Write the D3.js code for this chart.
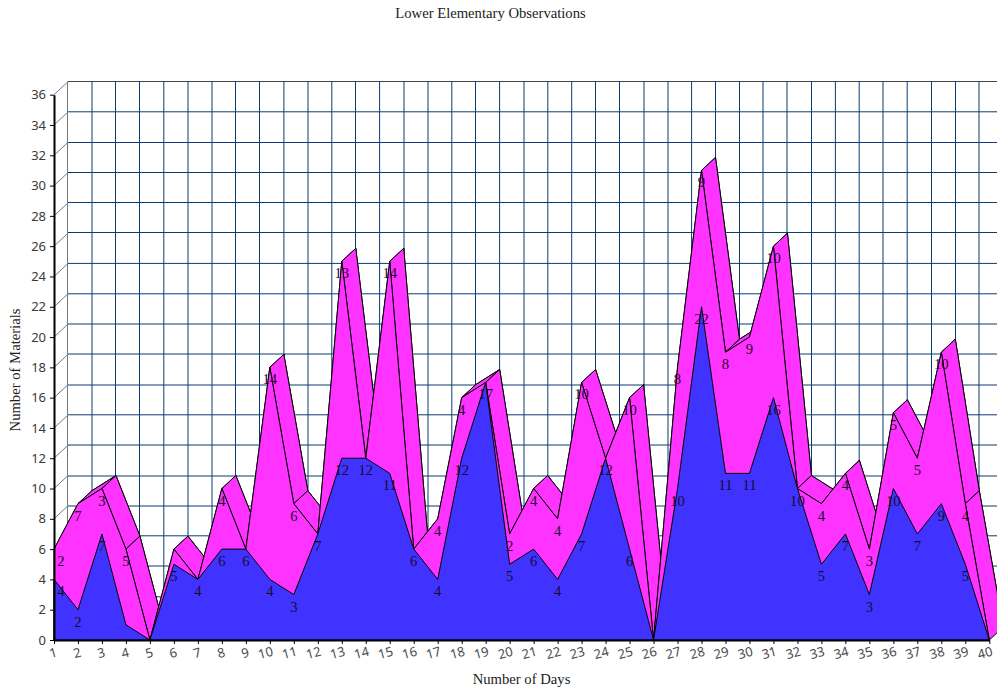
<!DOCTYPE html>
<html>
<head>
<meta charset="utf-8">
<script src="https://cdnjs.cloudflare.com/ajax/libs/d3/7.8.5/d3.min.js"></script>
<style>html,body{margin:0;padding:0;background:#fff;overflow:hidden}svg{display:block}</style>
</head>
<body>
<svg id="c" width="997" height="692"></svg>
<script>
const titleText = "Lower Elementary Observations";
const xTitle = "Number of Days";
const yTitle = "Number of Materials";
const days = d3.range(1, 41).map(String);
const blue = [4,2,7,1,0,5,4,6,6,4,3,7,12,12,11,6,4,12,17,5,6,4,7,12,6,0,10,22,11,11,16,10,5,7,3,10,7,9,5,0];
const pink = [2,7,3,5,0,1,0,4,0,14,6,0,13,0,14,0,4,4,0,2,4,4,10,0,10,0,8,9,8,9,10,0,4,4,3,5,5,10,4,0];
const yTicks = d3.range(0, 37, 2);
// how blurred each wall line looks in the reference (0 crisp, .5 soft)
const vBlur = [0,.5,0,0,.3,.5,.5,0,0,.4,.5,.3,0,.1,.5,.5,.3,0,.1,.5,.3,.2,0,0,.5,.5,.1,0,0,.5,.5,0,.1,.3,.5,.3,0,0,.5,.5];
const hBlur = [0,.3,.5,.3,.5,.5,.5,.3,.5,.5,.5,.3,.1,0,0,0,0,.3,0]; // value 0..36

const svg = d3.select("#c");
const x = d3.scalePoint().domain(days).range([54, 989.3]);
const y = d3.scaleLinear().domain([0, 36]).range([640, 94.7]);
const dx = 14, dy = -13;
const stack = blue.map((v, i) => v + pink[i]);
const navy = "#0b3c70";
const serif = "'Liberation Serif','Times New Roman',serif";
const sans = "'Noto Sans',Tahoma,sans-serif";
const snap = (p, blur) => Math.floor(p - 0.2) + 0.5 + (blur > 0 ? (Math.round(p) > Math.floor(p - 0.2) ? blur : -blur) : 0);

// back wall grid
const grid = svg.append("g");
grid.selectAll("line.v").data(days).join("line").attr("class", "v")
  .attr("x1", (d, i) => snap(x(d) + dx, vBlur[i])).attr("x2", (d, i) => snap(x(d) + dx, vBlur[i]))
  .attr("y1", y(36) + dy).attr("y2", y(0) + dy)
  .attr("stroke", (d, i) => i === 0 ? "#777" : navy).attr("stroke-width", 1);
grid.selectAll("line.h").data(yTicks).join("line").attr("class", "h")
  .attr("x1", x("1") + dx).attr("x2", 1010)
  .attr("y1", (d, i) => snap(y(d) + dy, hBlur[i])).attr("y2", (d, i) => snap(y(d) + dy, hBlur[i]))
  .attr("stroke", d => d === 36 ? "#444" : navy).attr("stroke-width", 1);
grid.selectAll("line.s").data(yTicks).join("line").attr("class", "s")
  .attr("x1", x("1")).attr("x2", x("1") + dx)
  .attr("y1", d => y(d)).attr("y2", d => y(d) + dy)
  .attr("stroke", "#5f7f9f").attr("stroke-width", 1);

// pink ribbon (back face, top surfaces, front face)
const line = d3.line();
const frontPts = vals => vals.map((v, i) => [x(days[i]), y(v)]);
const closed = pts => line([[x(days[0]), y(0)], ...pts, [x(days[days.length - 1]), y(0)]]) + "Z";
const pinkFill = "#ff33ff", blueFill = "#4033ff";
const shape = { fill: pinkFill, stroke: "#000", "stroke-width": 1, "stroke-linejoin": "miter" };
const applyAttrs = (sel, o) => { Object.entries(o).forEach(([k, v]) => sel.attr(k, v)); return sel; };

const back = svg.append("g").attr("transform", `translate(${dx},${dy})`);
applyAttrs(back.append("path").attr("d", closed(frontPts(stack))), shape);

const segs = d3.pairs(frontPts(stack));
applyAttrs(svg.append("g").selectAll("path").data(segs).join("path")
  .attr("d", ([a, b]) => line([a, b, [b[0] + dx, b[1] + dy], [a[0] + dx, a[1] + dy]]) + "Z"), shape);

applyAttrs(svg.append("path").attr("d", closed(frontPts(stack))), shape);
applyAttrs(svg.append("path").attr("d", closed(frontPts(blue))), { ...shape, fill: blueFill });

// axes
const yAxis = d3.axisLeft(y).tickValues(yTicks).tickSize(4).tickPadding(4).tickSizeOuter(0);
const gy = svg.append("g").attr("transform", `translate(${x("1")},0)`).call(yAxis);
gy.select(".domain").attr("stroke", "#000").attr("stroke-width", 2);
gy.selectAll("text").attr("font-family", sans).attr("font-size", 13).attr("fill", "#3a3a3a");

const xAxis = d3.axisBottom(x).tickSize(4).tickPadding(4).tickSizeOuter(0);
const gx = svg.append("g").attr("transform", `translate(0,${y(0)})`).call(xAxis);
gx.select(".domain").attr("stroke", "#000").attr("stroke-width", 2);
gx.selectAll("text").attr("font-family", sans).attr("font-size", 13).attr("fill", "#4a4a4a")
  .attr("dy", null).attr("y", 0)
  .attr("transform", d => `translate(${d.length > 1 ? -4.5 : -1},14) rotate(-15)`)
  .attr("dominant-baseline", "middle");

// value labels
const lab = svg.append("g").attr("font-family", serif).attr("font-size", 14.67)
  .attr("fill", "#1a0a30").attr("text-anchor", "middle");
const drawLabels = (vals, tops) => {
  lab.append("g").selectAll("text").data(vals.map((v, i) => ({ v, i })).filter(d => d.v > 1)).join("text")
    .attr("x", d => x(days[d.i]) + (d.i === 0 ? 7 : 0))
    .attr("y", d => y(tops[d.i]) + 17)
    .text(d => d.v);
};
drawLabels(blue, blue);
drawLabels(pink, stack);

// titles
svg.append("text").attr("x", 490.5).attr("y", 17.5).attr("text-anchor", "middle")
  .attr("font-family", serif).attr("font-size", 14.67).attr("fill", "#222").text(titleText);
svg.append("text").attr("x", 521.5).attr("y", 684).attr("text-anchor", "middle")
  .attr("font-family", serif).attr("font-size", 14.67).attr("fill", "#222").text(xTitle);
svg.append("text").attr("transform", "translate(20,370) rotate(-90)").attr("text-anchor", "middle")
  .attr("font-family", serif).attr("font-size", 14.67).attr("fill", "#222").text(yTitle);
</script>
</body>
</html>
